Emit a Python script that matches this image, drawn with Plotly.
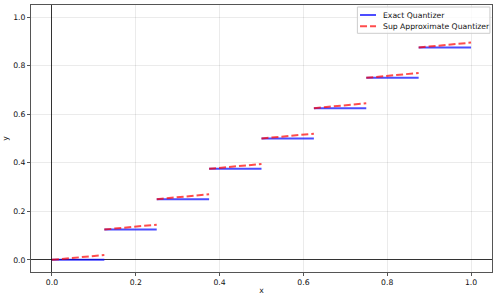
import plotly.graph_objects as go

seg_start = [0.0, 0.125, 0.25, 0.375, 0.5, 0.625, 0.75, 0.875]
seg_end = [0.125, 0.25, 0.375, 0.5, 0.625, 0.75, 0.875, 1.0]
exact_y = [0.0, 0.125, 0.25, 0.375, 0.5, 0.625, 0.75, 0.875]
approx_y_start = [0.0, 0.125, 0.25, 0.375, 0.5, 0.625, 0.75, 0.875]
approx_y_end = [0.02, 0.145, 0.27, 0.395, 0.52, 0.645, 0.77, 0.895]
x_ticks = [0.0, 0.2, 0.4, 0.6, 0.8, 1.0]
y_ticks = [0.0, 0.2, 0.4, 0.6, 0.8, 1.0]
series_names = ["Exact Quantizer", "Sup Approximate Quantizer"]

BLUE = "rgba(0,0,255,0.7)"
RED = "rgba(255,0,0,0.7)"
DASH = "7px,3px"
FONT = dict(family="DejaVu Sans", size=7.7, color="#111")

ex_x, ex_y, ap_x, ap_y = [], [], [], []
for i in range(len(seg_start)):
    ex_x += [seg_start[i], seg_end[i], None]
    ex_y += [exact_y[i], exact_y[i], None]
    ap_x += [seg_start[i], seg_end[i], None]
    ap_y += [approx_y_start[i], approx_y_end[i], None]

fig = go.Figure()
fig.add_trace(go.Scatter(x=ex_x, y=ex_y, mode="lines", name=series_names[0],
                         showlegend=False, line=dict(color=BLUE, width=2)))
fig.add_trace(go.Scatter(x=ap_x, y=ap_y, mode="lines", name=series_names[1],
                         showlegend=False, line=dict(color=RED, width=2, dash=DASH)))

axis_common = dict(range=[-0.05, 1.05], showline=True, mirror=True, linecolor="#555",
                   linewidth=1, ticks="outside", ticklen=3, tickcolor="#555",
                   showgrid=True, gridcolor="rgba(0,0,0,0.08)", gridwidth=1,
                   zeroline=True, zerolinecolor="rgba(0,0,0,0.8)", zerolinewidth=1,
                   tickfont=FONT, tickformat=".1f", automargin=False)

# compact matplotlib-style legend box (paper coordinates)
fig.add_shape(type="rect", xref="paper", yref="paper", x0=0.708, x1=0.9955, y0=0.894, y1=0.9925,
              line=dict(color="#cccccc", width=1), fillcolor="rgba(255,255,255,0.8)", layer="above")
fig.add_shape(type="line", xref="paper", yref="paper", x0=0.7137, x1=0.7484, y0=0.9625, y1=0.9625,
              line=dict(color=BLUE, width=2), layer="above")
fig.add_shape(type="line", xref="paper", yref="paper", x0=0.7137, x1=0.7484, y0=0.920, y1=0.920,
              line=dict(color=RED, width=2, dash=DASH), layer="above")
fig.add_annotation(xref="paper", yref="paper", x=0.7607, y=0.9625, text=series_names[0],
                   showarrow=False, xanchor="left", yanchor="middle", font=FONT,
                   borderpad=0)
fig.add_annotation(xref="paper", yref="paper", x=0.7607, y=0.920, text=series_names[1],
                   showarrow=False, xanchor="left", yanchor="middle", font=FONT,
                   borderpad=0)

fig.update_layout(
    width=498, height=300,
    margin=dict(l=31, r=6, t=5, b=28),
    plot_bgcolor="white", paper_bgcolor="white",
    xaxis=dict(**axis_common, tickvals=x_ticks,
               title=dict(text="x", font=FONT, standoff=1)),
    yaxis=dict(**axis_common, tickvals=y_ticks,
               title=dict(text="y", font=FONT, standoff=3)),
)

fig.write_html("out.html", config={"displayModeBar": False},
               post_script="document.body.style.margin='0';")
